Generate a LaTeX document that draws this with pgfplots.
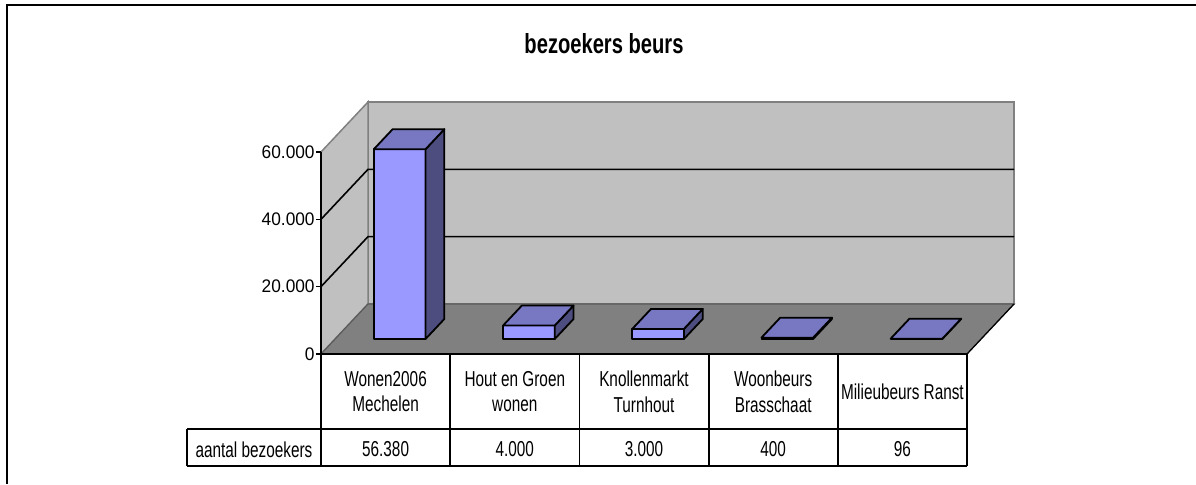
\documentclass[border=0pt]{standalone}
\usepackage{fontspec}
\setmainfont{Liberation Sans}
\newfontfamily\titlefont[FakeStretch=0.73]{Liberation Sans}
\newfontfamily\tabfont[FakeStretch=0.71]{Liberation Sans}
\newfontfamily\tickfont[FakeStretch=0.95]{Liberation Sans}
\usepackage{pgfplots}
\pgfplotsset{compat=1.18}
\definecolor{wall}{RGB}{192,192,192}
\definecolor{floorc}{RGB}{128,128,128}
\definecolor{barfront}{RGB}{153,153,255}
\definecolor{bartop}{RGB}{119,119,194}
\definecolor{barside}{RGB}{77,77,128}
% one 3D bar: #1 = category index, #2 = visitors (in thousands)
\newcommand\tdbar[2]{%
  \addplot3[fill=barfront,draw=black,line width=0.9pt,mark=none,line join=round]
    coordinates {(#1.3,0.3,0) (#1.7,0.3,0) (#1.7,0.3,#2) (#1.3,0.3,#2)} --cycle;
  \addplot3[fill=barside,draw=black,line width=0.9pt,mark=none,line join=round]
    coordinates {(#1.7,0.3,0) (#1.7,0.7,0) (#1.7,0.7,#2) (#1.7,0.3,#2)} --cycle;
  \addplot3[fill=bartop,draw=black,line width=0.9pt,mark=none,line join=round]
    coordinates {(#1.3,0.3,#2) (#1.7,0.3,#2) (#1.7,0.7,#2) (#1.3,0.7,#2)} --cycle;
}
\newcommand\ztick[2]{%
  \draw[black, line width=0.8pt] (axis cs:0,0,#1) -- ++(-2.5pt,0);
  \node[anchor=east, inner sep=0, font=\tickfont\fontsize{9.1}{11}\selectfont]
    at ([xshift=-3pt]axis cs:0,0,#1) {#2};
}
\begin{document}
\begin{tikzpicture}
\useasboundingbox (0,0) rectangle (598pt,242pt);
\draw[line width=1pt] (3.5pt,0) -- (3.5pt,239.5pt) -- (598pt,239.5pt);
\node[font=\titlefont\fontsize{13.8}{16}\selectfont\bfseries, anchor=base, inner sep=0] at (302pt,215.5pt) {bezoekers beurs};

\begin{axis}[at={(160.5pt,65pt)}, anchor=origin,
  x={(64.6pt,0pt)}, y={(23.5pt,25pt)}, z={(0pt,1.68333pt)},
  xmin=0, xmax=5, ymin=0, ymax=1, zmin=0, zmax=60,
  hide axis, clip=false]
  % walls and floor
  \filldraw[fill=wall, draw=floorc, line width=0.75pt]
    (axis cs:0,1,0) -- (axis cs:5,1,0) -- (axis cs:5,1,60) -- (axis cs:0,1,60) -- cycle;
  \filldraw[fill=wall, draw=floorc, line width=0.75pt]
    (axis cs:0,0,0) -- (axis cs:0,1,0) -- (axis cs:0,1,60) -- (axis cs:0,0,60) -- cycle;
  \filldraw[fill=floorc, draw=floorc!70!black, line width=0.6pt]
    (axis cs:0,0,0) -- (axis cs:5,0,0) -- (axis cs:5,1,0) -- (axis cs:0,1,0) -- cycle;
  \draw[black, line width=0.6pt] (axis cs:5,0,0) -- (axis cs:5,1,0);
  % gridlines
  \draw[black, line width=0.8pt] (axis cs:0,0,20) -- (axis cs:0,1,20) -- (axis cs:5,1,20);
  \draw[black, line width=0.8pt] (axis cs:0,0,40) -- (axis cs:0,1,40) -- (axis cs:5,1,40);
  % value axis
  \draw[black, line width=0.9pt] (axis cs:0,0,0) -- (axis cs:0,0,60);
  \draw[black, line width=1pt] (axis cs:0,0,0) -- (axis cs:5,0,0);
  \ztick{0}{0}
  \ztick{20}{20.000}
  \ztick{40}{40.000}
  \ztick{60}{60.000}
  % bars (visitors in thousands)
  \tdbar{0}{56.380}
  \tdbar{1}{4.000}
  \tdbar{2}{3.000}
  \tdbar{3}{0.400}
  \tdbar{4}{0.096}
\end{axis}

% data table
\begin{scope}[line width=0.9pt]
  \draw (160.5pt,65pt) -- (160.5pt,9pt);
  \foreach \xx in {225.1,289.7,354.3,418.9,483.5}{
    \draw (\xx pt,65pt) -- (\xx pt,9pt);
  }
  \draw (93.5pt,27.5pt) -- (483.5pt,27.5pt);
  \draw (93.5pt,9pt) -- (483.5pt,9pt);
  \draw (93.5pt,27.5pt) -- (93.5pt,9pt);
\end{scope}
\tikzset{tab/.style={font=\tabfont\fontsize{10.8}{12.85}\selectfont, align=center, inner sep=0}}
\node[tab] at (192.8pt,46.25pt) {Wonen2006\\Mechelen};
\node[tab] at (257.4pt,46.25pt) {Hout en Groen\\wonen};
\node[tab] at (322.0pt,46.25pt) {Knollenmarkt\\Turnhout};
\node[tab] at (386.6pt,46.25pt) {Woonbeurs\\Brasschaat};
\node[tab] at (451.2pt,46.25pt) {Milieubeurs Ranst};
\node[tab] at (127pt,17.3pt) {aantal bezoekers};
\node[tab] at (192.8pt,17.3pt) {56.380};
\node[tab] at (257.4pt,17.3pt) {4.000};
\node[tab] at (322.0pt,17.3pt) {3.000};
\node[tab] at (386.6pt,17.3pt) {400};
\node[tab] at (451.2pt,17.3pt) {96};
\end{tikzpicture}
\end{document}
